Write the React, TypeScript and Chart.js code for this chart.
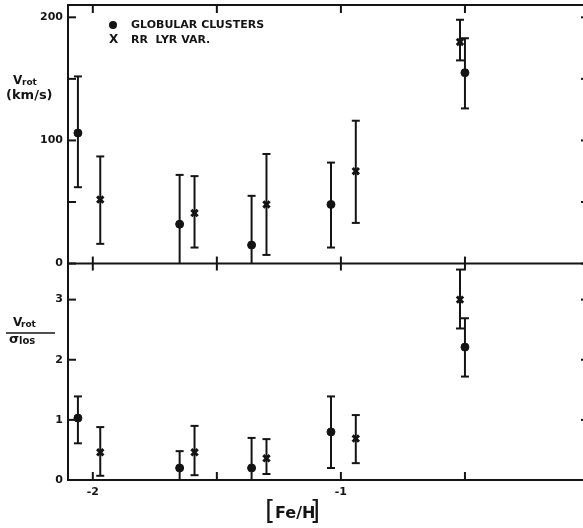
import React, { useEffect, useRef } from "react";
import { Chart, registerables } from "chart.js";

Chart.register(...registerables);

// ---------- data ----------
const feH_GC = [-2.06, -1.65, -1.36, -1.04, -0.5];
const feH_RR = [-1.97, -1.59, -1.3, -0.94, -0.52];

const vrot_GC = [106, 32, 15, 48, 155];
const vrotLo_GC = [62, -10, -25, 13, 126];
const vrotHi_GC = [152, 72, 55, 82, 183];

const vrot_RR = [52, 41, 48, 75, 180];
const vrotLo_RR = [16, 13, 7, 33, 165];
const vrotHi_RR = [87, 71, 89, 116, 198];

const ratio_GC = [1.03, 0.2, 0.2, 0.8, 2.21];
const ratioLo_GC = [0.61, -0.1, -0.3, 0.2, 1.72];
const ratioHi_GC = [1.39, 0.48, 0.7, 1.39, 2.69];

const ratio_RR = [0.46, 0.46, 0.36, 0.69, 3.0];
const ratioLo_RR = [0.07, 0.08, 0.1, 0.28, 2.52];
const ratioHi_RR = [0.88, 0.9, 0.68, 1.08, 3.5];

const xTickValues = [-2, -1.5, -1, -0.5, 0];
const xTickLabels = ["-2", "", "-1", "", "0"];
const vrotTickValues = [0, 50, 100, 150, 200];
const vrotTickLabels = ["0", "", "100", "", "200"];
const ratioTickValues = [0, 1, 2, 3];
const ratioTickLabels = ["0", "1", "2", "3"];

const legendGC = "GLOBULAR CLUSTERS";
const legendRR = "RR  LYR VAR.";

const INK = "#141414";
const FAMILY = "'DejaVu Sans', sans-serif";

function line(ctx: CanvasRenderingContext2D, x1: number, y1: number, x2: number, y2: number) {
  ctx.beginPath();
  ctx.moveTo(x1, y1);
  ctx.lineTo(x2, y2);
  ctx.stroke();
}

function drawErr(ctx: CanvasRenderingContext2D, xs: any, ys: any, xv: number[], lo: number[], hi: number[]) {
  const ymin = ys.min;
  const ymax = ys.max;
  for (let i = 0; i < xv.length; i++) {
    const px = xs.getPixelForValue(xv[i]);
    const l = Math.max(lo[i], ymin);
    const h = Math.min(hi[i], ymax);
    const pl = ys.getPixelForValue(l);
    const ph = ys.getPixelForValue(h);
    line(ctx, px, pl, px, ph);
    if (lo[i] >= ymin) line(ctx, px - 4, pl, px + 4, pl);
    if (hi[i] <= ymax) line(ctx, px - 4, ph, px + 4, ph);
  }
}

export default function App() {
  const ref = useRef<HTMLCanvasElement>(null);

  useEffect(() => {
    const canvas = ref.current!;
    const decor = {
      id: "decor",
      afterDatasetsDraw(chart: any) {
        const ctx: CanvasRenderingContext2D = chart.ctx;
        const { left, right, top, bottom } = chart.chartArea;
        const xs = chart.scales.x;
        const yT = chart.scales.yT;
        const yB = chart.scales.yB;
        const mid = yT.bottom;
        ctx.save();
        ctx.strokeStyle = INK;
        ctx.fillStyle = INK;
        ctx.lineWidth = 2;
        ctx.lineCap = "butt";
        ctx.strokeRect(left, top, right - left, bottom - top);
        line(ctx, left, mid, right, mid);
        for (const v of xTickValues) {
          const px = xs.getPixelForValue(v);
          line(ctx, px, top, px, top + 8);
          line(ctx, px, mid - 7, px, mid + 7);
          line(ctx, px, bottom - 8, px, bottom);
        }
        for (const v of vrotTickValues) {
          const py = yT.getPixelForValue(v);
          line(ctx, left, py, left + 8, py);
          line(ctx, right - 8, py, right, py);
        }
        for (const v of ratioTickValues) {
          const py = yB.getPixelForValue(v);
          line(ctx, left, py, left + 8, py);
          line(ctx, right - 8, py, right, py);
        }
        // error bars
        ctx.lineWidth = 2;
        drawErr(ctx, xs, yT, feH_GC, vrotLo_GC, vrotHi_GC);
        drawErr(ctx, xs, yT, feH_RR, vrotLo_RR, vrotHi_RR);
        drawErr(ctx, xs, yB, feH_GC, ratioLo_GC, ratioHi_GC);
        drawErr(ctx, xs, yB, feH_RR, ratioLo_RR, ratioHi_RR);

        // legend
        ctx.textBaseline = "middle";
        ctx.textAlign = "left";
        ctx.font = `bold 11px ${FAMILY}`;
        ctx.beginPath();
        ctx.arc(113, 25, 4, 0, Math.PI * 2);
        ctx.fill();
        ctx.fillText(legendGC, 131, 25);
        ctx.font = `bold 12px ${FAMILY}`;
        ctx.fillText("X", 109, 40);
        ctx.font = `bold 11px ${FAMILY}`;
        ctx.fillText(legendRR, 131, 40);

        // top y title
        ctx.textBaseline = "alphabetic";
        ctx.font = `bold 12px ${FAMILY}`;
        ctx.fillText("V", 13, 84);
        ctx.font = `bold 9px ${FAMILY}`;
        ctx.fillText("rot", 22, 85);
        ctx.font = `bold 13px ${FAMILY}`;
        ctx.fillText("(km/s)", 6, 99);

        // bottom y title (fraction)
        ctx.font = `bold 12px ${FAMILY}`;
        ctx.fillText("V", 13, 326);
        ctx.font = `bold 9px ${FAMILY}`;
        ctx.fillText("rot", 21, 327);
        ctx.lineWidth = 1.5;
        line(ctx, 6, 333, 55, 333);
        ctx.font = `bold 13px ${FAMILY}`;
        ctx.fillText("\u03c3", 9, 343);
        ctx.font = `bold 10px ${FAMILY}`;
        ctx.fillText("los", 19, 344);

        // x title
        ctx.textBaseline = "middle";
        ctx.font = `26px ${FAMILY}`;
        ctx.fillText("[", 265, 512);
        ctx.font = `bold 16px ${FAMILY}`;
        ctx.fillText("Fe/H", 275, 514);
        ctx.font = `26px ${FAMILY}`;
        ctx.fillText("]", 310, 512);
        ctx.restore();
      },
    };

    const tickFont = { family: FAMILY, size: 11, weight: "bold" as const };
    const noPad = (s: any) => {
      s.paddingTop = 0;
      s.paddingBottom = 0;
      s.paddingLeft = 0;
      s.paddingRight = 0;
    };

    const chart = new Chart(canvas, {
      type: "scatter",
      data: {
        datasets: [
          {
            label: "GC Vrot",
            data: feH_GC.map((x, i) => ({ x, y: vrot_GC[i] })),
            yAxisID: "yT",
            pointStyle: "circle",
            pointRadius: 4,
            backgroundColor: INK,
            borderColor: INK,
          },
          {
            label: "RR Vrot",
            data: feH_RR.map((x, i) => ({ x, y: vrot_RR[i] })),
            yAxisID: "yT",
            pointStyle: "crossRot",
            pointRadius: 4.5,
            borderWidth: 3,
            backgroundColor: INK,
            borderColor: INK,
          },
          {
            label: "GC ratio",
            data: feH_GC.map((x, i) => ({ x, y: ratio_GC[i] })),
            yAxisID: "yB",
            pointStyle: "circle",
            pointRadius: 4,
            backgroundColor: INK,
            borderColor: INK,
          },
          {
            label: "RR ratio",
            data: feH_RR.map((x, i) => ({ x, y: ratio_RR[i] })),
            yAxisID: "yB",
            pointStyle: "crossRot",
            pointRadius: 4.5,
            borderWidth: 3,
            backgroundColor: INK,
            borderColor: INK,
          },
        ],
      },
      options: {
        responsive: false,
        animation: false,
        devicePixelRatio: 1,
        layout: { autoPadding: false, padding: { left: 0, top: 5, right: 11, bottom: 0 } },
        plugins: { legend: { display: false }, tooltip: { enabled: false } },
        scales: {
          x: {
            type: "linear",
            min: -2.1,
            max: 0,
            grid: { display: false, drawTicks: false },
            border: { display: false },
            afterBuildTicks: (s: any) => {
              s.ticks = xTickValues.map((v) => ({ value: v }));
            },
            afterFit: (s: any) => {
              s.height = 48;
              noPad(s);
            },
            ticks: {
              autoSkip: false,
              maxRotation: 0,
              padding: 6,
              color: INK,
              font: tickFont,
              callback: (_v: any, i: number) => xTickLabels[i],
            },
          },
          yB: {
            type: "linear",
            position: "left",
            stack: "panels",
            stackWeight: 216,
            min: 0,
            max: 3.6,
            grid: { display: false, drawTicks: false },
            border: { display: false },
            afterBuildTicks: (s: any) => {
              s.ticks = ratioTickValues.map((v) => ({ value: v }));
            },
            afterFit: (s: any) => {
              s.width = 68;
              noPad(s);
            },
            ticks: {
              autoSkip: false,
              padding: 5,
              color: INK,
              font: tickFont,
              callback: (_v: any, i: number) => ratioTickLabels[i],
            },
          },
          yT: {
            type: "linear",
            position: "left",
            stack: "panels",
            stackWeight: 258,
            min: 0,
            max: 210,
            grid: { display: false, drawTicks: false },
            border: { display: false },
            afterBuildTicks: (s: any) => {
              s.ticks = vrotTickValues.map((v) => ({ value: v }));
            },
            afterFit: (s: any) => {
              s.width = 68;
              noPad(s);
            },
            ticks: {
              autoSkip: false,
              padding: 5,
              color: INK,
              font: tickFont,
              callback: (_v: any, i: number) => vrotTickLabels[i],
            },
          },
        },
      } as any,
      plugins: [decor],
    });
    return () => chart.destroy();
  }, []);

  return (
    <div
      style={{
        position: "absolute",
        left: 0,
        top: 0,
        width: 583,
        height: 528,
        overflow: "hidden",
        background: "#fff",
      }}
    >
      <canvas ref={ref} width={600} height={528} style={{ display: "block" }} />
    </div>
  );
}
